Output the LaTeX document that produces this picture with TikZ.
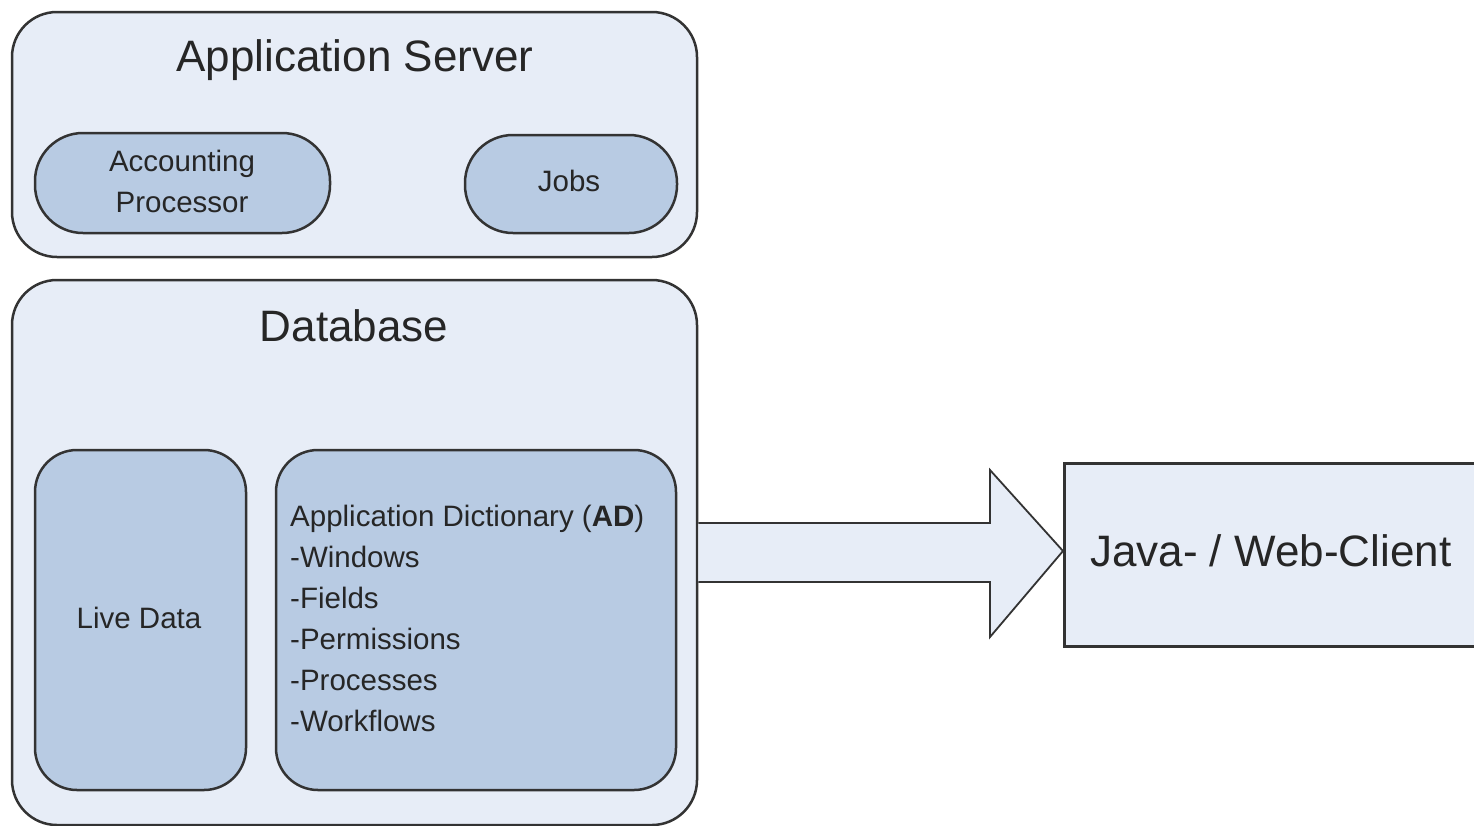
\documentclass[tikz,border=0pt]{standalone}
\usepackage{fontspec}
\setmainfont{Liberation Sans}
\definecolor{outerfill}{HTML}{E7EDF7}
\definecolor{innerfill}{HTML}{B8CBE3}
\definecolor{edge}{HTML}{333333}
\begin{document}
\begin{tikzpicture}[x=1pt,y=-1pt,
  outerbox/.style={draw=edge, line width=2.5pt, fill=outerfill, rounded corners=45pt, inner sep=0pt},
  innerbox/.style={draw=edge, line width=2.5pt, fill=innerfill, rounded corners=42pt, inner sep=0pt},
  title/.style={font=\fontsize{44}{52}\selectfont, text=black!85, inner sep=0pt},
  small/.style={font=\fontsize{29.5}{41}\selectfont, text=black!85, inner sep=0pt},
  bigarrow/.style={draw=edge, line width=1.8pt, fill=outerfill, line join=miter}
]
\clip (0,0) rectangle (1474,825);
\fill[white] (0,0) rectangle (1474,825);

% Application Server
\node[outerbox, minimum width=685pt, minimum height=245pt] (appserver) at (354.5,134.5) {};
\node[title] (appservertitle) at (355,60) {Application Server};
\node[innerbox, rounded corners=48pt, minimum width=295pt, minimum height=100pt] (accounting) at (182.5,183) {};
\node[small, align=center] (accountingtext) at (182,181) {Accounting\\Processor};
\node[innerbox, rounded corners=48pt, minimum width=212pt, minimum height=98pt] (jobs) at (571,184) {};
\node[small] (jobstext) at (569,181) {Jobs};

% Database
\node[outerbox, minimum width=685pt, minimum height=545pt] (database) at (354.5,552.5) {};
\node[title] (databasetitle) at (354,326) {Database};
\node[innerbox, minimum width=211pt, minimum height=340pt] (livedata) at (140.5,620) {};
\node[small] (livedatatext) at (139,618) {Live Data};
\node[innerbox, minimum width=400pt, minimum height=340pt] (ad) at (476,620) {};
\node[small, align=left, anchor=north west] (adtext) at (290,505) {Application Dictionary ({\bfseries AD})\\-Windows\\-Fields\\-Permissions\\-Processes\\-Workflows};

% Client
\node[draw=edge, line width=2.5pt, fill=outerfill, minimum width=440pt, minimum height=183pt, anchor=north west, inner sep=0pt] (client) at (1063,462) {};
\node[title, anchor=west] (clienttext) at (1090,551) {Java- / Web-Client};

% Arrow from database to client
\coordinate (tip) at (client.west |- 0,551);
\draw[bigarrow] (database.east |- 0,523) -- (990,523) -- (990,470) -- (tip) -- (990,637) -- (990,582) -- (database.east |- 0,582);
\end{tikzpicture}
\end{document}
